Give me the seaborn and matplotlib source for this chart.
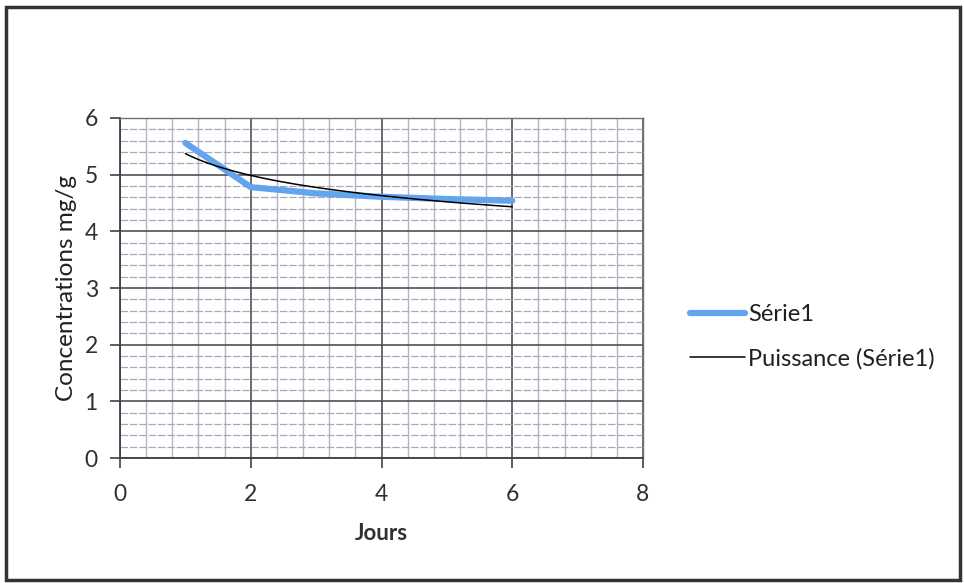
import numpy as np
import pandas as pd
import matplotlib
matplotlib.use("Agg")
import matplotlib.pyplot as plt
import seaborn as sns
from matplotlib.ticker import MultipleLocator
from matplotlib.patches import Rectangle

jours = [1, 2, 3, 4, 5, 6]
concentrations = [5.56, 4.78, 4.67, 4.61, 4.57, 4.54]
serie_label = "Série1"
trend_label = "Puissance (Série1)"
x_label = "Jours"
y_label = "Concentrations mg/g"

sns.set_style("white")
plt.rcParams['font.family'] = ['Lato', 'DejaVu Sans']

df = pd.DataFrame({"Jours": jours, "Conc": concentrations})

# power trendline fit y = a * x^b
b, loga = np.polyfit(np.log(df["Jours"]), np.log(df["Conc"]), 1)
xt = np.linspace(min(jours), max(jours), 100)
yt = np.exp(loga) * xt ** b

fig = plt.figure(figsize=(9.64, 5.83), dpi=100)
ax = fig.add_axes([0.1245, 0.2144, 0.5425, 0.5832])

ax.set_xlim(0, 8)
ax.set_ylim(0, 6)
ax.xaxis.set_major_locator(MultipleLocator(2))
ax.xaxis.set_minor_locator(MultipleLocator(0.4))
ax.yaxis.set_major_locator(MultipleLocator(1))
ax.yaxis.set_minor_locator(MultipleLocator(0.2))
ax.grid(which='major', color='#505058', linewidth=1.2)
ax.xaxis.grid(which='minor', color='#b4b4c4', linewidth=1.0, linestyle='-')
ax.yaxis.grid(which='minor', color='#a8a8bc', linewidth=0.9, linestyle=(0, (6, 1.5)))
ax.set_axisbelow(True)

sns.lineplot(data=df, x="Jours", y="Conc", ax=ax, color='#62a4ee', linewidth=4.5,
             label=serie_label, solid_capstyle='round', zorder=3)
ax.plot(xt, yt, color='black', linewidth=1.1, label=trend_label, zorder=4)

for s in ['top', 'right']:
    ax.spines[s].set_color('#707078')
    ax.spines[s].set_linewidth(1.0)
for s in ['left', 'bottom']:
    ax.spines[s].set_color('#404048')
    ax.spines[s].set_linewidth(1.3)

ax.tick_params(axis='both', which='major', direction='out', length=7, width=1.2,
               color='#404048', labelsize=16.5, labelcolor='#303030', pad=9,
               bottom=True, left=True)
ax.tick_params(axis='x', which='major', pad=12)
ax.tick_params(axis='both', which='minor', length=0)

ax.set_xlabel(x_label, fontsize=16, fontweight='bold', color='#303030', labelpad=13)
ax.set_ylabel(y_label, fontsize=17.5, color='#202020', labelpad=5)

leg = ax.legend(loc='center left', bbox_to_anchor=(1.05, 0.357), frameon=False,
                fontsize=17, handlelength=2.3, handletextpad=0.15, labelspacing=0.98)
for t in leg.get_texts():
    t.set_color('#202020')

fig.patches.append(Rectangle((0.006, 0.006), 0.99, 0.982, transform=fig.transFigure,
                             fill=False, edgecolor='#333333', linewidth=2.5))

fig.savefig("out.png", dpi=100)
